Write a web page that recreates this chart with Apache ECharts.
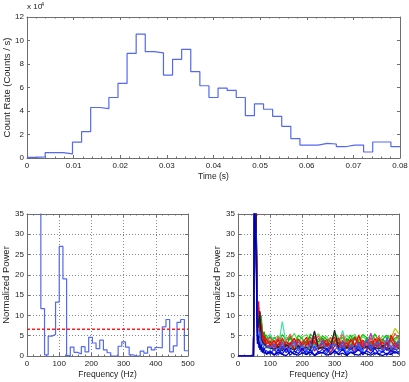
<!DOCTYPE html>
<html lang="en">
<head>
<meta charset="UTF-8">
<title>burst light curve and power spectra</title>
<script src="https://cdn.jsdelivr.net/npm/echarts@6/dist/echarts.min.js"></script>
<style>
  html, body { margin: 0; padding: 0; background: #fff; }
  #main { width: 409px; height: 382px; }
</style>
</head>
<body>
<div id="main"></div>
<script>
// light curve: count rate in units of 1e4 counts/s, 41 equal bins over 0..0.08 s
var timeMax = 0.08;
var countRate = [0.05, 0.1, 0.45, 0.45, 0.35, 1.35, 2.25, 4.3, 4.2, 5.15,
  6.35, 8.9, 10.55, 9.05, 8.95, 7.05, 8.4, 9.25, 7.35, 6.15,
  5.15, 5.95, 5.75, 5.15, 3.6, 4.6, 4.15, 3.55, 2.7, 1.65,
  1.1, 1.1, 1.24, 1.19, 0.96, 1.1, 1.1, 0.51, 1.36, 1.36, 0.96];

// observed power spectrum (stairs), bins start at powerStart Hz
var powerStart = 43;
var powerBin = 11.43;
var lowFreqPower = 60;   // first bin is far above the axis top
var obsPower = [11.7, 0.3, 4.9, 5.3, 13.3, 27.0, 19.0, 0.1, 2.2, 0.9,
  0.5, 2.3, 1.0, 4.6, 3.2, 1.8, 3.9, 1.5, 0.8, 0.0,
  0.05, 2.4, 3.5, 2.2, 0.3, 0.0, 0.0, 1.2, 0.7, 2.2,
  1.5, 2.1, 2.0, 7.2, 9.0, 1.0, 2.5, 8.3, 9.0, 1.3];
var detectionLevel = 6.6;

// simulated spectra
var simFreq = [0, 48, 51, 56, 60, 64, 68, 72, 76, 81, 88, 100,
  112.5, 125, 137.5, 150, 162.5, 175, 187.5, 200, 212.5, 225, 237.5, 250,
  262.5, 275, 287.5, 300, 312.5, 325, 337.5, 350, 362.5, 375, 387.5, 400,
  412.5, 425, 437.5, 450, 462.5, 475, 487.5, 500];
var simColors = ['#50e050', '#00c800', '#40e0a0', '#b0d000', '#00a000', '#2ca02c',
  '#00c0e0', '#8040c0', '#d020d0', '#ff5050', '#e41a1c', '#ff0000', '#c81414',
  '#202020', '#3060ff', '#1f3fff', '#0000ff', '#0000a0'];
var simPower = [
  [0,0,40,33, 9,6,8,5,4.6,5.4,3.0,3.8, 4.4,5.0,3.2,4.7,3.9,5.6,3.4,4.8, 5.2,3.6,4.5,5.5,3.8,4.9,3.3,5.7, 4.6,3.7,5.1,4.2,5.4,3.5,4.8,4.0, 5.3,4.4,3.6,5.0,4.3,5.2,3.9,4.7],
  [0,0,41,32, 8,11,6,9,5.5,4.5,5.2,3.2, 4.6,3.4,5.3,3.9,4.5,2.8,5.1,4.2, 2.9,5.4,4.4,3.2,5.0,4.1,3.5,5.5, 3.8,4.6,3.0,5.2,2.7,4.0,5.3,4.5, 2.8,5.5,3.4,4.2,5.1,3.6,4.4,4.9],
  [0,0,41,33, 8,7,9,5,4,3.5,3.0,5.5, 3.4,2.1,8.5,2.8,3.1,2.0,3.6,2.4, 2.9,3.8,2.2,3.0,2.6,3.3,2.1,3.9, 2.7,6.3,2.4,3.1,2.0,2.8,3.5,2.3, 3.0,2.5,3.2,2.1,3.7,2.9,3.3,3.0],
  [0,0,42,34, 10,9,7,5,4,3.4,2.6,2.3, 3.0,2.4,3.6,2.8,2.1,3.3,2.6,3.0, 3.5,2.3,2.9,3.4,2.0,3.1,2.7,3.6, 2.4,3.0,2.2,3.7,2.5,2.9,3.4,2.6, 3.1,2.3,3.5,2.8,3.2,4.4,6.8,5.5],
  [0,0,42,36, 11,9,10.5,7,5,6,3.6,4.8, 2.9,4.5,3.3,2.4,4.9,3.0,4.2,2.6, 3.8,4.7,2.8,3.6,4.4,3.1,2.5,4.0, 3.7,2.2,4.3,3.4,4.8,2.9,3.9,3.2, 4.5,2.7,3.8,4.1,3.0,4.4,3.6,2.8],
  [0,0,43,37, 13,8,7,10,6,3.8,4.5,2.7, 3.6,1.9,4.0,2.5,3.2,4.3,1.8,3.5, 2.6,3.9,2.0,4.4,3.1,2.2,4.6,2.8, 3.4,1.7,3.9,2.6,4.2,3.0,2.1,4.5, 2.9,3.6,2.3,4.1,2.7,3.8,2.2,4.3],
  [0,0,40,33, 7,6,5,4,3.2,2.7,2.1,1.8, 2.6,1.7,2.2,3.0,1.5,2.4,2.9,1.8, 2.5,1.6,2.8,2.1,3.1,1.7,2.3,2.7, 1.9,2.6,2.0,1.5,2.8,2.2,1.7,2.5, 2.1,2.9,1.8,2.4,2.7,1.6,2.3,2.0],
  [0,0,39,31, 6,8,6,4.5,3.6,2.9,2.3,2.6, 1.5,2.9,3.3,2.0,1.7,2.7,3.4,2.2, 1.6,2.8,3.5,2.0,1.8,2.4,3.0,1.4, 2.6,3.2,1.9,2.4,2.9,1.7,3.3,2.1, 2.5,1.8,3.0,2.6,1.5,2.3,3.2,2.7],
  [0,0,39,31, 7,12,6,5.5,4,3.2,2.8,2.2, 1.9,3.0,2.4,1.6,2.7,3.4,2.0,1.5, 2.6,3.1,5.9,2.3,2.9,1.7,2.5,3.2, 1.9,2.6,3.3,2.1,1.6,2.8,3.0,2.2, 5.6,2.0,2.7,1.8,3.1,2.4,1.9,2.6],
  [0,0,40,34, 10,8,11,6,5.2,4.0,3.5,4.5, 3.0,4.8,2.6,3.9,5.4,2.8,4.1,3.3, 2.5,4.4,3.7,5.0,2.7,3.6,4.5,2.9, 3.8,5.3,3.1,4.0,2.4,4.7,3.4,2.8, 4.2,3.5,5.0,2.9,3.9,3.3,5.6,4.0],
  [0,0,41,35, 12,7,9,5,6,3.2,4.2,2.5, 3.9,1.8,4.5,2.4,3.1,1.4,4.2,2.7, 3.5,1.9,4.8,2.2,3.0,4.1,1.6,3.6, 4.4,2.3,3.3,1.8,4.6,2.9,3.9,1.5, 3.7,2.4,4.5,1.9,3.2,4.0,2.1,3.5],
  [0,0,40,38, 9,13.5,6,8,4.5,5,3,3.6, 2.2,4.1,1.6,3.5,2.8,4.4,1.9,3.2, 4.6,2.1,3.7,1.5,4.0,2.6,3.3,4.7, 2.0,3.8,1.7,4.2,2.5,5.2,2.2,3.6, 1.8,4.3,2.7,3.5,1.6,5.1,3.0,2.4],
  [0,0,39,33, 7,10,4.5,7,3.2,4.4,2.0,2.8, 1.3,3.0,2.2,0.9,3.4,1.6,2.6,1.1, 2.9,3.6,1.2,2.4,1.8,3.1,0.8,2.5, 3.3,1.4,2.7,2.0,1.0,3.5,1.7,2.3, 1.2,3.0,2.1,1.5,3.4,0.9,2.8,1.9],
  [0,0,44,37, 10,7,11,4.2,3.5,3.0,2.4,2.0, 1.6,2.4,1.2,2.8,1.9,1.4,2.5,1.7, 2.1,1.3,6.2,1.8,2.3,1.5,2.0,6.4, 1.8,1.4,2.2,1.6,2.5,1.3,1.9,2.4, 1.5,2.1,1.7,2.6,1.4,2.0,1.6,1.8],
  [0,0,37,29, 8,4,6,2.5,3.2,1.5,2.6,2.0, 2.9,1.1,3.3,0.8,2.4,3.6,1.2,2.7, 0.9,3.1,1.6,2.2,3.8,1.0,2.5,3.0, 1.4,3.5,0.7,2.8,1.9,3.2,1.1,4.1, 1.6,2.9,3.4,0.9,4.6,1.8,2.3,3.7],
  [0,0,36,27, 6,2,3.5,1.0,2.2,0.5,1.4,0.4, 1.8,0.2,2.3,0.9,1.5,0.3,2.1,0.6, 1.3,0.2,2.4,0.8,1.7,0.4,2.6,0.5, 1.2,2.2,0.3,1.9,0.7,2.5,0.4,1.6, 2.8,0.3,1.4,0.9,2.2,0.4,1.8,0.6],
  [0,0,38,30, 4,3,2.5,1.8,1.2,0.9,0.6,1.3, 0.3,1.6,0.5,1.9,0.2,1.2,0.6,1.8, 0.4,1.5,0.2,1.1,0.7,1.9,0.3,1.4, 0.5,1.7,0.2,1.0,0.8,1.6,0.3,1.3, 0.6,1.9,0.4,1.2,0.2,1.5,0.7,1.1],
  [0,0,35,25, 3,5,1.5,2.8,0.8,1.9,0.4,0.9, 0.2,0.9,0.4,0.1,1.1,0.5,0.2,0.8, 0.3,1.0,0.1,0.6,0.9,0.2,0.5,1.2, 0.3,0.7,0.1,0.9,0.4,0.2,1.0,0.5, 0.2,0.8,0.4,0.1,0.7,0.3,1.1,0.4]
];

var FONT = 'Liberation Sans';
var AXIS_COLOR = '#6e6e6e';
var TEXT_COLOR = '#222';

function xAxes(g, min, max, interval, name, fmt, dotted) {
  var bottom = {
    type: 'value', gridIndex: g, position: 'bottom', min: min, max: max, interval: interval,
    name: name, nameLocation: 'middle', nameGap: 14, nameMoveOverlap: false,
    nameTextStyle: { fontSize: 8.5, fontFamily: FONT, color: TEXT_COLOR },
    axisLine: { show: true, onZero: false, lineStyle: { color: AXIS_COLOR } },
    axisTick: { show: true, inside: true, length: 3, lineStyle: { color: AXIS_COLOR } },
    minorTick: { show: true, splitNumber: 5, length: 1.5, lineStyle: { color: AXIS_COLOR } },
    axisLabel: { fontSize: 8, fontFamily: FONT, color: TEXT_COLOR, margin: 4, formatter: fmt },
    splitLine: { show: dotted, lineStyle: { type: [1, 2], color: '#8a8a8a' } }
  };
  var top = {
    type: 'value', gridIndex: g, position: 'top', min: min, max: max, interval: interval,
    axisLine: { show: true, onZero: false, lineStyle: { color: AXIS_COLOR } },
    axisTick: { show: true, inside: true, length: 3, lineStyle: { color: AXIS_COLOR } },
    minorTick: { show: true, splitNumber: 5, length: 1.5, lineStyle: { color: AXIS_COLOR } },
    axisLabel: { show: false },
    splitLine: { show: false }
  };
  return [bottom, top];
}

function yAxes(g, min, max, interval, name, nameGap, dotted) {
  var left = {
    type: 'value', gridIndex: g, position: 'left', min: min, max: max, interval: interval,
    name: name, nameLocation: 'middle', nameRotate: 90, nameGap: nameGap, nameMoveOverlap: false,
    nameTextStyle: { fontSize: 9.5, fontFamily: FONT, color: TEXT_COLOR },
    axisLine: { show: true, onZero: false, lineStyle: { color: AXIS_COLOR } },
    axisTick: { show: true, inside: true, length: 3, lineStyle: { color: AXIS_COLOR } },
    axisLabel: { fontSize: 8, fontFamily: FONT, color: TEXT_COLOR, margin: 3 },
    splitLine: { show: dotted, lineStyle: { type: [1, 2], color: '#8a8a8a' } }
  };
  var right = {
    type: 'value', gridIndex: g, position: 'right', min: min, max: max, interval: interval,
    axisLine: { show: true, onZero: false, lineStyle: { color: AXIS_COLOR } },
    axisTick: { show: true, inside: true, length: 3, lineStyle: { color: AXIS_COLOR } },
    axisLabel: { show: false },
    splitLine: { show: false }
  };
  return [left, right];
}

// build series data
var rateData = [];
var binW = timeMax / countRate.length;
for (var i = 0; i < countRate.length; i++) rateData.push([i * binW, countRate[i]]);
rateData.push([timeMax, countRate[countRate.length - 1]]);

var powerData = [[powerStart - powerBin, lowFreqPower]];
for (var j = 0; j < obsPower.length; j++) powerData.push([powerStart + j * powerBin, obsPower[j]]);
powerData.push([powerStart + obsPower.length * powerBin, obsPower[obsPower.length - 1]]);

var series = [
  { type: 'line', xAxisIndex: 0, yAxisIndex: 0, step: 'end', symbol: 'none', data: rateData,
    lineStyle: { color: '#5368f4', width: 1.2 } },
  { type: 'line', xAxisIndex: 2, yAxisIndex: 2, step: 'end', symbol: 'none', data: powerData,
    lineStyle: { color: '#5368f4', width: 1.2 } },
  { type: 'line', xAxisIndex: 2, yAxisIndex: 2, symbol: 'none',
    data: [[0, detectionLevel], [500, detectionLevel]],
    lineStyle: { color: '#ff1a1a', width: 1.6, type: [3, 2] } }
];
simPower.forEach(function (vals, s) {
  series.push({
    type: 'line', xAxisIndex: 4, yAxisIndex: 4, symbol: 'none',
    data: simFreq.map(function (f, k) { return [f, vals[k]]; }),
    lineStyle: { color: simColors[s], width: 1.2 }
  });
});

var fmtTime = function (v) { return v === 0 ? '0' : v.toFixed(2); };

var chart = echarts.init(document.getElementById('main'));
chart.setOption({
  animation: false,
  backgroundColor: '#fff',
  grid: [
    { left: 27, top: 17, width: 373, height: 141, containLabel: false, outerBoundsMode: 'none' },
    { left: 27, top: 214, width: 161, height: 142, containLabel: false, outerBoundsMode: 'none' },
    { left: 238, top: 214, width: 161, height: 142, containLabel: false, outerBoundsMode: 'none' }
  ],
  xAxis: [].concat(
    xAxes(0, 0, 0.08, 0.01, 'Time (s)', fmtTime, false),
    xAxes(1, 0, 500, 100, 'Frequency (Hz)', null, true),
    xAxes(2, 0, 500, 100, 'Frequency (Hz)', null, true)
  ),
  yAxis: [].concat(
    yAxes(0, 0, 12, 2, 'Count Rate (Counts / s)', 15, false),
    yAxes(1, 0, 35, 5, 'Normalized Power', 16, true),
    yAxes(2, 0, 35, 5, 'Normalized Power', 16, true)
  ),
  graphic: [
    { type: 'text', left: 27, top: 3, style: { text: 'x 10', fontSize: 8, fontFamily: FONT, fill: TEXT_COLOR } },
    { type: 'text', left: 41, top: 1, style: { text: '4', fontSize: 5.5, fontFamily: FONT, fill: TEXT_COLOR } }
  ],
  series: series
});
</script>
</body>
</html>
